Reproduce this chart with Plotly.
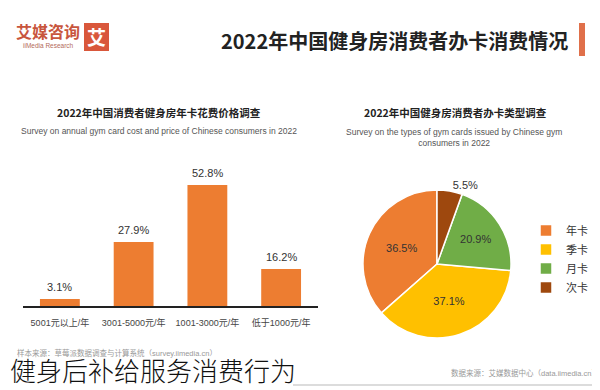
import plotly.graph_objects as go

# ---- data ----
bar_categories = ["5001元以上/年", "3001-5000元/年", "1001-3000元/年", "低于1000元/年"]
bar_values = [3.1, 27.9, 52.8, 16.2]

pie_labels = ["年卡", "季卡", "月卡", "次卡"]
pie_values = [36.5, 37.1, 20.9, 5.5]
pie_colors = ["#ED7D31", "#FFC000", "#70AD47", "#9E480E"]

main_title = "2022年中国健身房消费者办卡消费情况"
bar_title = "2022年中国消费者健身房年卡花费价格调查"
bar_sub = "Survey on annual gym card cost and price of Chinese consumers in 2022"
pie_title = "2022年中国健身房消费者办卡类型调查"
pie_sub = "Survey on the types of gym cards issued by Chinese gym<br>consumers in 2022"
caption = "健身后补给服务消费行为"

W, H = 600, 390
CJK = "Noto Sans CJK SC"
LAT = "Liberation Sans, Noto Sans CJK SC"


def px(x):
    return x / W


def py(y):
    return (H - y) / H


fig = go.Figure()

fig.add_trace(go.Bar(
    x=bar_categories, y=bar_values,
    marker=dict(color="#ED7D31", line=dict(width=0)),
    xaxis="x", yaxis="y", showlegend=False, hoverinfo="skip",
))

# first slice (年卡) starts at 12 o'clock and the slices run counterclockwise
first_share = pie_values[0] / sum(pie_values) * 360
fig.add_trace(go.Pie(
    labels=pie_labels, values=pie_values, sort=False,
    direction="counterclockwise", rotation=-first_share,
    marker=dict(colors=pie_colors, line=dict(color="white", width=1.5)),
    texttemplate="%{value:.1f}%",
    textposition=["inside", "inside", "inside", "outside"],
    insidetextorientation="horizontal",
    textfont=dict(family=LAT, size=11, color="#333333"),
    domain=dict(x=[px(355), px(503)], y=[py(330), py(182)]),
    showlegend=True, hoverinfo="skip",
))

annotations = []
for c, v in zip(bar_categories, bar_values):
    annotations.append(dict(
        x=c, y=v, xref="x", yref="y", text=f"{v:.1f}%", showarrow=False,
        yshift=12, font=dict(family=LAT, size=11, color="#333333"),
    ))

def txt(x, y, text, size, color="#333", family=CJK, xanchor="center", bold=False, weight=None):
    if bold:
        text = f"<b>{text}</b>"
    font = dict(family=family, size=size, color=color)
    if weight is not None:
        font["weight"] = weight
    annotations.append(dict(
        x=px(x), y=py(y), xref="paper", yref="paper", text=text, showarrow=False,
        xanchor=xanchor, yanchor="middle", font=font,
    ))

# header
txt(386, 32, main_title, 20, "#222", CJK, bold=True)
txt(40, 23, "艾媒咨询", 16, "#C8553D", CJK, bold=True)
txt(40, 37, "iiMedia Research", 6.5, "#B36A5A", LAT)
txt(88, 29, "艾", 19, "white", CJK, bold=True)

# subtitles
txt(151, 104, bar_title, 10.5, "#222", CJK, bold=True)
txt(151, 123, bar_sub, 8.5, "#555", LAT)
txt(447, 104, pie_title, 10.5, "#222", CJK, bold=True)
txt(446, 129, pie_sub, 8.5, "#555", LAT)

# footer
txt(7, 345, "样本来源：草莓派数据调查与计算系统（survey.iimedia.cn）", 7.5, "#999", LAT, xanchor="left")
txt(593, 365, "数据来源：艾媒数据中心（data.iimedia.cn）", 7.5, "#999", LAT, xanchor="right")
txt(0, 361, caption, 26, "#111", CJK, xanchor="left", weight=300)

shapes = [
    dict(type="rect", xref="paper", yref="paper", x0=px(571), x1=px(577), y0=py(48), y1=py(15),
         fillcolor="#E0704A", line=dict(width=0), layer="below"),
    dict(type="rect", xref="paper", yref="paper", x0=px(76), x1=px(101), y0=py(43), y1=py(15),
         fillcolor="#D9573B", line=dict(width=0), layer="below"),
    dict(type="line", xref="paper", yref="paper", x0=px(285), x1=px(600), y0=py(377), y1=py(377),
         line=dict(color="#D0D0D0", width=1.5), layer="below"),
]

fig.update_layout(
    width=W, height=H, margin=dict(l=0, r=0, t=0, b=0),
    paper_bgcolor="white", plot_bgcolor="white",
    bargap=0.46,
    xaxis=dict(domain=[px(15), px(310)], anchor="y", showgrid=False, zeroline=False,
               showline=True, linecolor="#222", linewidth=1.5,
               categoryorder="array", categoryarray=bar_categories,
               tickfont=dict(family=LAT, size=9, color="#444"), ticks="", ticklabelstandoff=7,
               fixedrange=True),
    yaxis=dict(domain=[py(298), py(160.6)], range=[0, 60], visible=False, fixedrange=True),
    legend=dict(x=px(518), y=py(208), xanchor="left", yanchor="top",
                font=dict(family=CJK, size=11, color="#333"), bgcolor="rgba(0,0,0,0)",
                itemwidth=30, tracegroupgap=0),
    annotations=annotations, shapes=shapes,
    uniformtext=dict(minsize=8, mode="show"),
)

fig.write_html("out.html")
